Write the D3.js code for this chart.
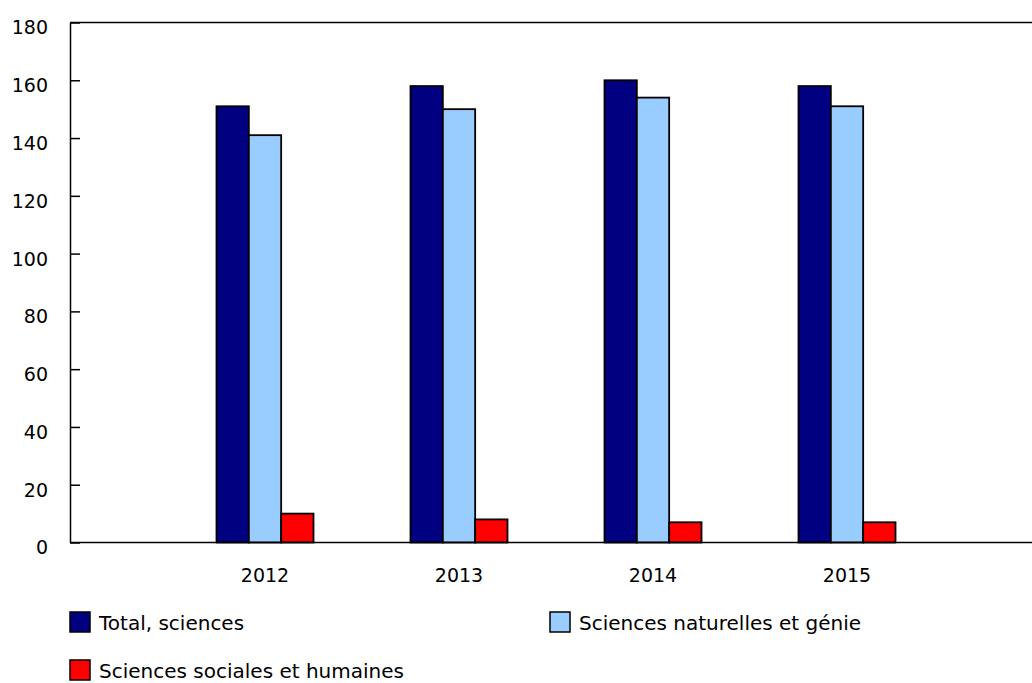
<!DOCTYPE html>
<html><head><meta charset="utf-8">
<script src="https://cdn.jsdelivr.net/npm/d3@7"></script>
<style>body{margin:0;background:#fff}svg{display:block;font-family:"DejaVu Sans",Verdana,sans-serif}</style>
</head><body>
<svg id="c" width="1032" height="683"></svg>
<script>
const years = ["2012","2013","2014","2015"];
const seriesNames = ["Total, sciences","Sciences naturelles et génie","Sciences sociales et humaines"];
const totalSciences = [151,158,160,158];
const naturelles = [141,150,154,151];
const sociales = [10,8,7,7];
const colors = ["#000080","#99ccff","#ff0000"];
const yTicks = [0,20,40,60,80,100,120,140,160,180];

const svg = d3.select("#c");
const L=70, R=1032, T=22.5, B=542.5;
const y = d3.scaleLinear().domain([0,180]).range([B,T]);
const x0 = d3.scaleBand().domain(years).range([168,944]).paddingInner(0.5).paddingOuter(0.25);
const x1 = d3.scaleBand().domain(seriesNames).range([0,x0.bandwidth()]);
const vals = [totalSciences,naturelles,sociales];

years.forEach((yr,i)=>{
  const g = svg.append("g").attr("transform",`translate(${x0(yr)},0)`);
  seriesNames.forEach((s,j)=>{
    g.append("rect").attr("x",x1(s)).attr("width",x1.bandwidth())
      .attr("y",y(vals[j][i])).attr("height",B-y(vals[j][i]))
      .attr("fill",colors[j]).attr("stroke","#000").attr("stroke-width",1.8);
  });
});

svg.append("line").attr("x1",L).attr("x2",R).attr("y1",T).attr("y2",T).attr("stroke","#000").attr("stroke-width",1.5);
const ya = svg.append("g").attr("transform",`translate(${L},0)`)
  .call(d3.axisLeft(y).tickValues(yTicks).tickSize(-10).tickSizeOuter(0).tickPadding(22));
ya.select(".domain").attr("stroke","#000").attr("stroke-width",1.5);
ya.selectAll(".tick line").attr("stroke","#000").attr("stroke-width",1.5);
ya.selectAll(".tick text").attr("font-size",19).attr("fill","#000").attr("font-family","DejaVu Sans").attr("dy","0.6em");
const xa = svg.append("g").attr("transform",`translate(0,${B})`)
  .call(d3.axisBottom(x0).tickSize(0).tickPadding(26));
xa.select(".domain").remove();
svg.append("line").attr("x1",L).attr("x2",R).attr("y1",B).attr("y2",B).attr("stroke","#000").attr("stroke-width",1.5);
xa.selectAll(".tick text").attr("font-size",19).attr("fill","#000").attr("font-family","DejaVu Sans");

const legPos = [[70,612],[550,612],[70,660]];
seriesNames.forEach((s,j)=>{
  const [lx,ly]=legPos[j];
  svg.append("rect").attr("x",lx).attr("y",ly).attr("width",20).attr("height",20)
    .attr("fill",colors[j]).attr("stroke","#000").attr("stroke-width",1.5);
  svg.append("text").attr("x",lx+29).attr("y",ly+18).attr("font-size",20).attr("fill","#000").text(s);
});
</script>
</body></html>
